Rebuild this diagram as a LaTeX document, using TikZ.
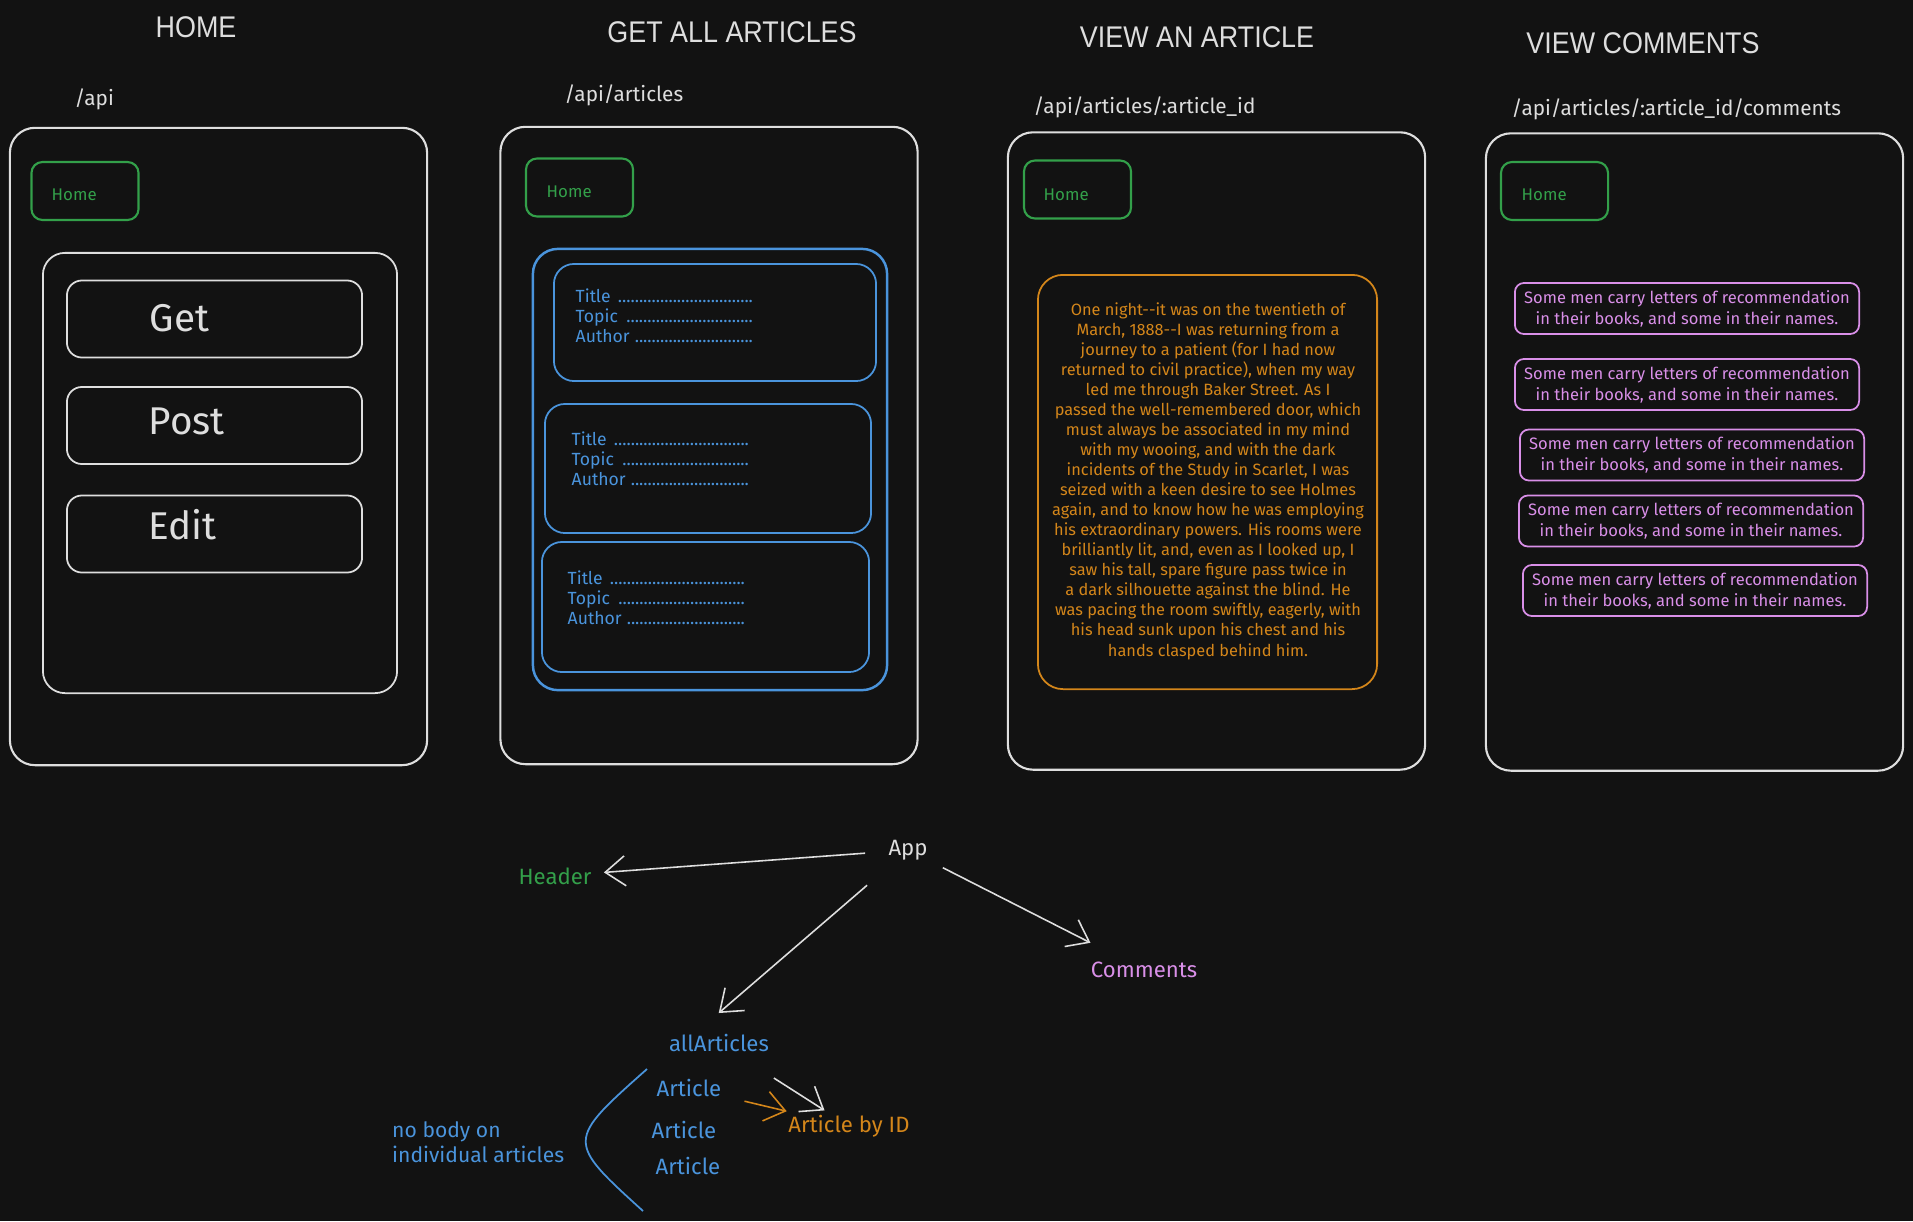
\documentclass[tikz,border=0pt]{standalone}
\usepackage{fontspec}
\setmainfont{Fira Sans}
\newfontfamily\titlefont[FakeStretch=0.9]{Liberation Sans}
\usetikzlibrary{arrows.meta}
\definecolor{bg}{HTML}{121212}
\definecolor{wline}{HTML}{DEDEDE}
\definecolor{hgreen}{HTML}{33A04A}
\definecolor{hblue}{HTML}{4A94DC}
\definecolor{horange}{HTML}{D4861A}
\definecolor{hviolet}{HTML}{D98FE8}
\newcommand\dline[1]{\makebox[1.78cm][l]{#1~\leaders\hbox{.}\hfill\kern0pt}}
\begin{document}
\begin{tikzpicture}[x=0.01cm,y=-0.01cm,
  ttl/.style={text=wline,font=\titlefont\fontsize{8.5}{10}\selectfont,inner sep=0pt},
  route/.style={text=wline,font=\fontsize{5.9}{6.5}\selectfont,inner sep=0pt},
  panel/.style={draw=wline,line width=0.6pt,rounded corners=0.25cm,minimum width=4.17cm,minimum height=6.37cm,inner sep=0pt},
  homebtn/.style={draw=hgreen,line width=0.6pt,rounded corners=0.11cm,minimum width=1.07cm,minimum height=0.58cm,inner sep=0pt},
  hometext/.style={text=hgreen,font=\fontsize{4.8}{5.5}\selectfont,inner sep=0pt,anchor=west},
  innerbox/.style={draw=wline,line width=0.5pt,rounded corners=0.22cm,inner sep=0pt},
  bigbtn/.style={draw=wline,line width=0.5pt,rounded corners=0.15cm,minimum width=2.95cm,minimum height=0.77cm,inner sep=0pt},
  bigtext/.style={text=wline,font=\fontsize{11}{12}\selectfont,inner sep=0pt,anchor=west},
  bluebox/.style={draw=hblue,line width=0.5pt,rounded corners=0.2cm,inner sep=0pt},
  cardtext/.style={text=hblue,font=\fontsize{5}{5.7}\selectfont,align=left,inner sep=0pt,anchor=west},
  para/.style={text=horange,font=\fontsize{4.65}{5.7}\selectfont,align=center,inner sep=0pt},
  cbox/.style={draw=hviolet,line width=0.5pt,rounded corners=0.09cm,minimum width=3.44cm,minimum height=0.51cm,inner sep=0pt,text=hviolet,align=center,font=\fontsize{4.7}{6}\selectfont},
  tlabel/.style={font=\fontsize{6.3}{7.2}\selectfont,inner sep=1pt},
  arr/.style={draw=wline,line width=0.45pt,-{Straight Barb[length=0.2cm,width=0.3cm]}}
]
\useasboundingbox (0,0) rectangle (1913,1221);
\fill[bg] (0,0) rectangle (1913,1221);

% titles
\node[ttl] (t1) at (196,27) {HOME};
\node[ttl] (t2) at (732,32) {GET ALL ARTICLES};
\node[ttl] (t3) at (1197,37) {VIEW AN ARTICLE};
\node[ttl] (t4) at (1643,43) {VIEW COMMENTS};

% routes
\node[route,anchor=west] (r1) at (74,99) {/api};
\node[route,anchor=west] (r2) at (564,95) {/api/articles};
\node[route,anchor=west] (r3) at (1033,107) {/api/articles/:article\_id};
\node[route,anchor=west] (r4) at (1511,109) {/api/articles/:article\_id/comments};

% panels
\node[panel] (p1) at (218.5,446.5) {};
\node[panel] (p2) at (709,445.5) {};
\node[panel] (p3) at (1216.5,451) {};
\node[panel] (p4) at (1694.5,452) {};

% home buttons
\node[homebtn] (h1) at (85,191) {};
\node[hometext] (h1t) at (51,195) {Home};
\node[homebtn] (h2) at (579.5,187.5) {};
\node[hometext] (h2t) at (546,192) {Home};
\node[homebtn] (h3) at (1077.5,189.5) {};
\node[hometext] (h3t) at (1043,195) {Home};
\node[homebtn] (h4) at (1554.5,191) {};
\node[hometext] (h4t) at (1521,195) {Home};

% panel 1
\node[innerbox,minimum width=3.54cm,minimum height=4.40cm] (ib) at (220,473) {};
\node[bigbtn] (bget) at (214.5,319) {};
\node[bigtext] (tget) at (149,318) {Get};
\node[bigbtn] (bpost) at (214.5,425.5) {};
\node[bigtext] (tpost) at (148,421) {Post};
\node[bigbtn] (bedit) at (214.5,534) {};
\node[bigtext] (tedit) at (148,525) {Edit};

% panel 2
\node[bluebox,line width=0.7pt,rounded corners=0.25cm,minimum width=3.54cm,minimum height=4.41cm] (bl) at (710,469.5) {};
\node[bluebox,minimum width=3.22cm,minimum height=1.17cm] (card1) at (715,322.5) {};
\node[cardtext] (card1t) at (575,316) {\dline{Title}\\\dline{Topic}\\\dline{Author}};
\node[bluebox,minimum width=3.26cm,minimum height=1.29cm] (card2) at (708,468.5) {};
\node[cardtext] (card2t) at (571,459) {\dline{Title}\\\dline{Topic}\\\dline{Author}};
\node[bluebox,minimum width=3.27cm,minimum height=1.30cm] (card3) at (705.5,607) {};
\node[cardtext] (card3t) at (567,598) {\dline{Title}\\\dline{Topic}\\\dline{Author}};

% panel 3
\node[draw=horange,line width=0.5pt,rounded corners=0.25cm,minimum width=3.39cm,minimum height=4.14cm,inner sep=0pt] (ob) at (1207.5,482) {};
\node[para] (obt) at (1208,481) {One night-{}-it was on the twentieth of\\
March, 1888-{}-I was returning from a\\
journey to a patient (for I had now\\
returned to civil practice), when my way\\
led me through Baker Street. As I\\
passed the well-remembered door, which\\
must always be associated in my mind\\
with my wooing, and with the dark\\
incidents of the Study in Scarlet, I was\\
seized with a keen desire to see Holmes\\
again, and to know how he was employing\\
his extraordinary powers. His rooms were\\
brilliantly lit, and, even as I looked up, I\\
saw his tall, spare figure pass twice in\\
a dark silhouette against the blind. He\\
was pacing the room swiftly, eagerly, with\\
his head sunk upon his chest and his\\
hands clasped behind him.};

% panel 4
\node[cbox] (cm1) at (1687,308.5) {Some men carry letters of recommendation\\in their books, and some in their names.};
\node[cbox] (cm2) at (1687,384.5) {Some men carry letters of recommendation\\in their books, and some in their names.};
\node[cbox] (cm3) at (1692,455) {Some men carry letters of recommendation\\in their books, and some in their names.};
\node[cbox] (cm4) at (1691,521) {Some men carry letters of recommendation\\in their books, and some in their names.};
\node[cbox] (cm5) at (1695,590.5) {Some men carry letters of recommendation\\in their books, and some in their names.};

% tree
\node[tlabel,text=wline] (app) at (908,850) {App};
\node[tlabel,text=hgreen] (header) at (555,876) {Header};
\node[tlabel,text=hviolet] (comments) at (1144,970) {Comments};
\node[tlabel,text=hblue] (all) at (719,1043) {allArticles};
\node[tlabel,text=hblue] (a1) at (689,1088) {Article};
\node[tlabel,text=hblue] (a2) at (684,1130) {Article};
\node[tlabel,text=hblue] (a3) at (688,1166) {Article};
\node[tlabel,text=horange] (abid) at (849,1126) {Article by ID};
\node[tlabel,text=hblue,align=left,anchor=west,font=\fontsize{6}{7}\selectfont] (nobody) at (388,1142) {no body on\\individual articles};

\draw[arr,shorten <=0.43cm,shorten >=0.49cm] (app.center) -- (header.center);
\draw[arr,shorten <=0.54cm,shorten >=0.26cm] (app.center) -- ([xshift=-0.2cm]all.north);
\draw[arr,shorten <=0.39cm,shorten >=0.60cm] (app.center) -- (comments.center);
\draw[arr,shorten <=0.65cm,shorten >=0.29cm] (all.center) -- (abid.center);
\draw[arr,draw=horange,shorten <=0.57cm,shorten >=0.64cm] (a1.center) -- (abid.center);

\coordinate (bs) at (647,1069);
\coordinate (be) at (643,1211);
\draw[hblue,line width=0.5pt] (bs) .. controls (566,1141) .. (be);
\end{tikzpicture}
\end{document}
